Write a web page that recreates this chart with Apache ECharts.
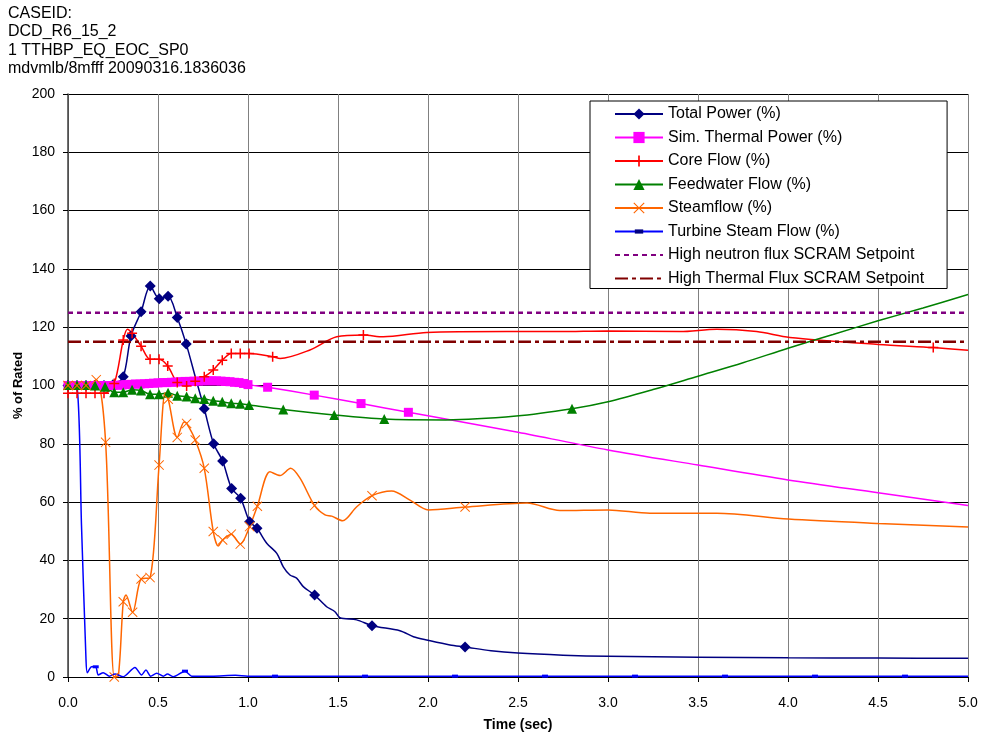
<!DOCTYPE html>
<html>
<head>
<meta charset="utf-8">
<script src="https://cdn.jsdelivr.net/npm/echarts@6/dist/echarts.min.js"></script>
<style>
html,body{margin:0;padding:0;background:#fff;}
#chart{width:982px;height:734px;}
</style>
</head>
<body>
<div id="chart"></div>
<script>
// ---------- DATA (time sec, value %, marker flag) ----------
var headerLines = ['CASEID:', 'DCD_R6_15_2', '1 TTHBP_EQ_EOC_SP0', 'mdvmlb/8mfff 20090316.1836036'];
var seriesNames = ['Total Power (%)', 'Sim. Thermal Power (%)', 'Core Flow (%)', 'Feedwater Flow (%)',
  'Steamflow (%)', 'Turbine Steam Flow (%)', 'High neutron flux SCRAM Setpoint', 'High Thermal Flux SCRAM Setpoint'];
var xTicks = [0, 0.5, 1.0, 1.5, 2.0, 2.5, 3.0, 3.5, 4.0, 4.5, 5.0];
var yTicks = [0, 20, 40, 60, 80, 100, 120, 140, 160, 180, 200];

var totalPower = [
  [0,100,1],[0.05,100,1],[0.1,100,1],[0.15,100,1],[0.2,100,1],[0.25,100.3,1],[0.307,103,1],[0.35,117,1],
  [0.406,125.3,1],[0.457,134.1,1],[0.507,129.8,1],[0.556,130.6,1],[0.607,123.3,1],[0.657,114.2,1],[0.707,103,0],
  [0.757,92,1],[0.809,80,1],[0.859,74.1,1],[0.909,64.7,1],[0.959,61.3,1],[1.009,53.3,1],[1.05,51,1],
  [1.104,45.9,0],[1.16,42.4,0],[1.196,37.8,0],[1.233,35,0],[1.27,33.9,0],[1.307,31,0],[1.37,28.1,1],
  [1.437,24.1,0],[1.483,22.4,0],[1.511,20.3,0],[1.604,19.6,0],[1.689,17.6,1],[1.844,15.9,0],[1.919,13.8,0],
  [2.0,12.6,0],[2.122,11,0],[2.206,10.3,1],[2.35,9,0],[2.5,8.2,0],[2.75,7.5,0],[3.0,7.1,0],[3.5,6.8,0],
  [4.0,6.6,0],[4.5,6.5,0],[5.0,6.4,0]
];
var simThermal = [
  [0,100,1],[0.025,100,1],[0.05,100,1],[0.075,100,1],[0.1,100,1],[0.125,100,1],[0.15,100,1],[0.175,100,1],
  [0.2,100,1],[0.225,100,1],[0.25,100,1],[0.275,100.1,1],[0.3,100.2,1],[0.325,100.3,1],[0.35,100.4,1],
  [0.375,100.5,1],[0.4,100.5,1],[0.425,100.6,1],[0.45,100.7,1],[0.475,100.8,1],[0.5,100.9,1],[0.525,101,1],
  [0.55,101,1],[0.575,101.1,1],[0.6,101.2,1],[0.625,101.3,1],[0.65,101.4,1],[0.675,101.4,1],[0.7,101.5,1],
  [0.725,101.5,1],[0.75,101.6,1],[0.775,101.6,1],[0.8,101.6,1],[0.825,101.6,1],[0.85,101.5,1],[0.875,101.4,1],
  [0.9,101.3,1],[0.925,101.1,1],[0.95,101,1],[0.975,100.7,1],[1.0,100.3,1],
  [1.109,99.4,1],[1.368,96.7,1],[1.628,93.8,1],[1.891,90.8,1],[2.0,89.6,0],[2.5,84,0],[3.0,77.9,0],
  [3.5,72.7,0],[4.0,67.6,0],[4.5,63.2,0],[5.0,58.8,0]
];
var coreFlow = [
  [0,97.3,1],[0.05,97.3,1],[0.1,97.3,1],[0.15,97.3,1],[0.2,97.3,1],[0.257,100.7,1],[0.307,115.6,1],[0.33,119.3,0],
  [0.356,117.9,1],[0.406,113.5,1],[0.456,109,1],[0.506,109,1],[0.554,106.7,1],[0.607,101,1],[0.659,99.8,1],
  [0.707,101.5,1],[0.757,103,1],[0.807,105.3,1],[0.857,108.7,1],[0.907,111,1],[0.957,111,1],[1.006,111,1],
  [1.137,109.9,1],[1.178,109.3,0],[1.344,112.2,0],[1.493,116.7,0],[1.641,117.3,1],[1.752,116.7,0],[1.993,118.2,0],
  [2.437,118.5,0],[2.733,118.5,0],[2.993,118.7,0],[3.4,118.5,0],[3.604,119.3,0],[3.826,118.5,0],[4.01,116.5,0],
  [4.502,114.1,0],[4.807,113,1],[5.0,112.1,0]
];
var feedwater = [
  [0,100.2,1],[0.05,100.2,1],[0.1,100.2,1],[0.15,100,1],[0.206,99.6,1],[0.257,97.7,1],[0.307,97.7,1],
  [0.356,98.5,1],[0.406,98.3,1],[0.456,97,1],[0.506,97,1],[0.556,97.5,1],[0.607,96.5,1],[0.659,96.2,1],
  [0.707,95.6,1],[0.757,95.4,1],[0.807,94.8,1],[0.857,94.4,1],[0.907,93.9,1],[0.957,93.7,1],[1.006,93.3,1],
  [1.196,91.8,1],[1.479,89.9,1],[1.757,88.5,1],[2.1,88.2,0],[2.49,89.5,0],[2.8,92,1],[3.0,94.4,0],
  [3.25,98.6,0],[3.5,103.2,0],[3.75,107.8,0],[4.0,112.8,0],[4.25,117.5,0],[4.5,122.2,0],[4.75,126.6,0],[5.0,131.2,0]
];
var steamflow = [
  [0,100,1],[0.05,100,1],[0.1,100,1],[0.157,102,1],[0.209,80.5,1],[0.257,0,1],[0.28,0.5,0],[0.307,25.8,1],
  [0.322,28.1,0],[0.359,22.2,1],[0.406,33.6,1],[0.456,34.1,1],[0.506,72.7,1],[0.54,97.5,0],[0.557,95.3,1],
  [0.607,82.2,1],[0.645,87.5,0],[0.659,87,1],[0.707,81.3,1],[0.757,71.6,1],[0.807,49.9,1],[0.835,44.9,0],
  [0.859,47,1],[0.907,49,1],[0.957,45.6,1],[1.009,51.6,1],[1.052,58.6,1],[1.122,70.4,0],[1.178,69.1,0],
  [1.237,71.6,0],[1.289,68.2,0],[1.37,58.8,1],[1.428,55.6,0],[1.465,55.2,0],[1.526,53.6,0],[1.604,58.4,0],
  [1.689,62.2,1],[1.798,63.8,0],[1.9,60.7,0],[2.002,57.3,0],[2.206,58.3,1],[2.55,59.7,0],[2.733,57.1,0],
  [3.0,57.3,0],[3.233,56.2,0],[3.604,56.2,0],[4.002,54.2,0],[4.502,52.7,0],[5.0,51.5,0]
];
var turbine = [
  [0,100,0],[0.05,99.5,0],[0.075,52,0],[0.1,6,0],[0.107,1.5,0],[0.131,3.5,0],[0.154,3.5,1],[0.168,0.7,0],
  [0.196,1.5,0],[0.23,0.3,0],[0.261,1.0,0],[0.307,0.1,0],[0.372,3.3,0],[0.409,0.7,0],[0.433,2.4,0],
  [0.459,0.3,0],[0.493,1.3,0],[0.53,0.3,0],[0.552,1.0,0],[0.585,0.1,0],[0.65,2.0,1],[0.687,0.3,0],
  [0.8,0.3,0],[0.93,0.6,0],[1.0,0.3,0],[1.15,0.3,1],[1.65,0.3,1],[2.15,0.3,1],[2.65,0.3,1],[3.15,0.3,1],
  [3.65,0.3,1],[4.15,0.3,1],[4.65,0.3,1],[5.0,0.3,0]
];
var neutronSetpoint = [[0,125],[5,125]];
var thermalSetpoint = [[0,115],[5,115]];

// ---------- CHART ----------
var FONT = '"Liberation Sans", Arial, sans-serif';
function pts(arr) {
  return arr.map(function (p) {
    return p[2] ? [p[0], p[1]] : { value: [p[0], p[1]], symbol: 'none' };
  });
}
var PLUS = 'path://M4.25,0H5.75V4.25H10V5.75H5.75V10H4.25V5.75H0V4.25H4.25Z';
var CROSS = 'path://M0.7,0L5,4.3L9.3,0L10,0.7L5.7,5L10,9.3L9.3,10L5,5.7L0.7,10L0,9.3L4.3,5L0,0.7Z';
var DASH = 'path://M0,0L0,0M1,2.5H7V5.5H1ZM8,8L8,8';

function lineSeries(name, data, color, symbol, size, smooth) {
  return {
    name: name, type: 'line', data: pts(data), smooth: smooth, symbol: symbol, symbolSize: size,
    showAllSymbol: true, lineStyle: { color: color, width: 1.5 }, itemStyle: { color: color },
    emphasis: { disabled: true }, animation: false
  };
}

var legendData = seriesNames.map(function (n, i) {
  if (i >= 6) return { name: n, itemStyle: { color: 'rgba(0,0,0,0)', borderWidth: 0, opacity: 0 } };
  if (i === 5) return { name: n, itemStyle: { color: '#000080' } };
  return { name: n };
});

var chart = echarts.init(document.getElementById('chart'), null, { renderer: 'canvas' });
chart.setOption({
  animation: false,
  backgroundColor: '#fff',
  textStyle: { fontFamily: FONT },
  graphic: [{
    type: 'text', left: 8, top: 4,
    style: { text: headerLines.join('\n'), font: '16px ' + FONT, lineHeight: 18.5, fill: '#000' }
  }],
  grid: { left: 68, right: 14, top: 94, bottom: 57, containLabel: false, outerBoundsMode: 'none' },
  legend: {
    orient: 'vertical', left: 590, top: 101,
    padding: [5, 23, 2, 24], itemGap: 7.5, itemWidth: 48, itemHeight: 14,
    backgroundColor: '#fff', borderColor: '#000', borderWidth: 1,
    textStyle: { fontSize: 16, fontFamily: FONT, color: '#000', lineHeight: 16 },
    selectedMode: false,
    data: legendData
  },
  xAxis: {
    type: 'value', min: 0, max: 5, interval: 0.5,
    name: 'Time (sec)', nameLocation: 'middle', nameGap: 41, nameMoveOverlap: false,
    nameTextStyle: { fontWeight: 'bold', fontSize: 14, color: '#000', fontFamily: FONT },
    axisLine: { show: true, onZero: false, lineStyle: { color: '#000', width: 1 } },
    axisTick: { show: true, length: 5, lineStyle: { color: '#000' } },
    axisLabel: { fontSize: 14, color: '#000', margin: 19, fontFamily: FONT,
      formatter: function (v) { return v.toFixed(1); } },
    splitLine: { show: true, lineStyle: { color: '#808080', width: 1 } }
  },
  yAxis: {
    type: 'value', min: 0, max: 200, interval: 20,
    name: '% of Rated', nameLocation: 'middle', nameGap: 50, nameRotate: 90, nameMoveOverlap: false,
    nameTextStyle: { fontWeight: 'bold', fontSize: 13, color: '#000', fontFamily: FONT, verticalAlign: 'middle' },
    axisLine: { show: true, lineStyle: { color: '#404040', width: 1.5 } },
    axisTick: { show: true, length: 5, lineStyle: { color: '#000' } },
    axisLabel: { fontSize: 14, color: '#000', margin: 13, fontFamily: FONT },
    splitLine: { show: true, lineStyle: { color: '#000', width: 1 } }
  },
  series: [
    lineSeries(seriesNames[0], totalPower, '#000080', 'diamond', 11, 0.3),
    lineSeries(seriesNames[1], simThermal, '#FF00FF', 'rect', 9, 0.3),
    lineSeries(seriesNames[2], coreFlow, '#FF0000', PLUS, 10, 0.3),
    lineSeries(seriesNames[3], feedwater, '#008000', 'triangle', 10, 0.3),
    lineSeries(seriesNames[4], steamflow, '#FF6600', CROSS, 10, 0.3),
    lineSeries(seriesNames[5], turbine, '#0000FF', DASH, 8, 0.25),
    {
      name: seriesNames[6], type: 'line', data: neutronSetpoint, symbol: 'none', animation: false,
      lineStyle: { color: '#800080', width: 2.5, type: [5, 4] }, itemStyle: { color: '#800080' },
      emphasis: { disabled: true }
    },
    {
      name: seriesNames[7], type: 'line', data: thermalSetpoint, symbol: 'none', animation: false,
      lineStyle: { color: '#800000', width: 2.5, type: [13, 4, 4, 4] }, itemStyle: { color: '#800000' },
      emphasis: { disabled: true }
    }
  ]
});
</script>
</body>
</html>
